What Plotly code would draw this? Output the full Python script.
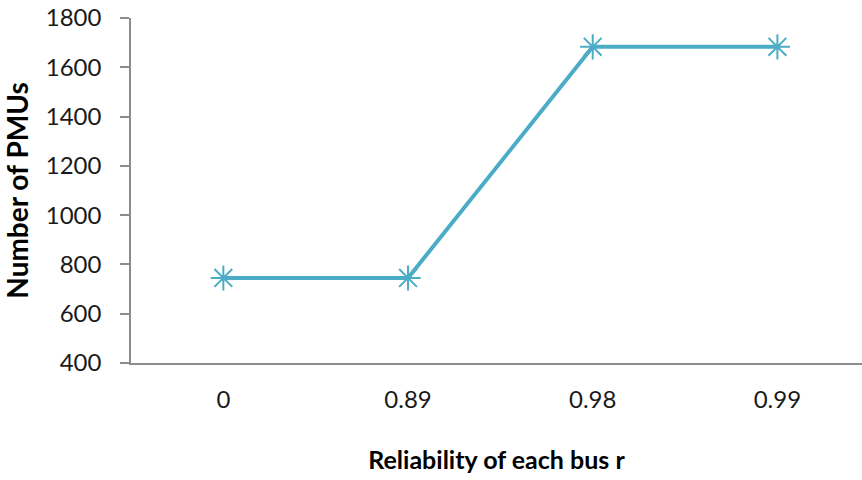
import plotly.graph_objects as go

# Bus reliability levels and the resulting PMU counts
reliability = ["0", "0.89", "0.98", "0.99"]
pmu_count = [745, 745, 1683, 1683]
y_ticks = [400, 600, 800, 1000, 1200, 1400, 1600, 1800]

line_color = "#4BACC6"
axis_color = "#8C8C8C"
font_family = "Lato, Open Sans, sans-serif"

fig = go.Figure()
fig.add_trace(go.Scatter(
    x=reliability,
    y=pmu_count,
    mode="lines+markers",
    line=dict(color=line_color, width=4),
    marker=dict(symbol="asterisk-open", size=21,
                line=dict(color=line_color, width=2)),
    showlegend=False,
))

fig.update_layout(
    width=862, height=480,
    margin=dict(l=131, r=0, t=18, b=117),
    paper_bgcolor="white", plot_bgcolor="white",
    font=dict(family=font_family, size=22, color="#000000"),
)

fig.update_xaxes(
    type="category",
    range=[-0.5, 3.458],
    showgrid=False, zeroline=False,
    showline=True, linecolor=axis_color, linewidth=1.5,
    ticks="", ticklabelstandoff=14,
    tickfont=dict(size=24, color="#1a1a1a"),
    title=dict(text="<b>Reliability of each bus r</b>",
               font=dict(size=25), standoff=40),
)

fig.update_yaxes(
    range=[400, 1800],
    tickvals=y_ticks,
    showgrid=False, zeroline=False,
    showline=True, linecolor=axis_color, linewidth=1.5,
    ticks="outside", ticklen=9, tickcolor=axis_color, tickwidth=1.5,
    ticklabelstandoff=14,
    tickfont=dict(size=24, color="#1a1a1a"),
    title=dict(text="<b>Number of PMUs</b>", font=dict(size=28), standoff=12),
)

fig.write_html("out.html")
